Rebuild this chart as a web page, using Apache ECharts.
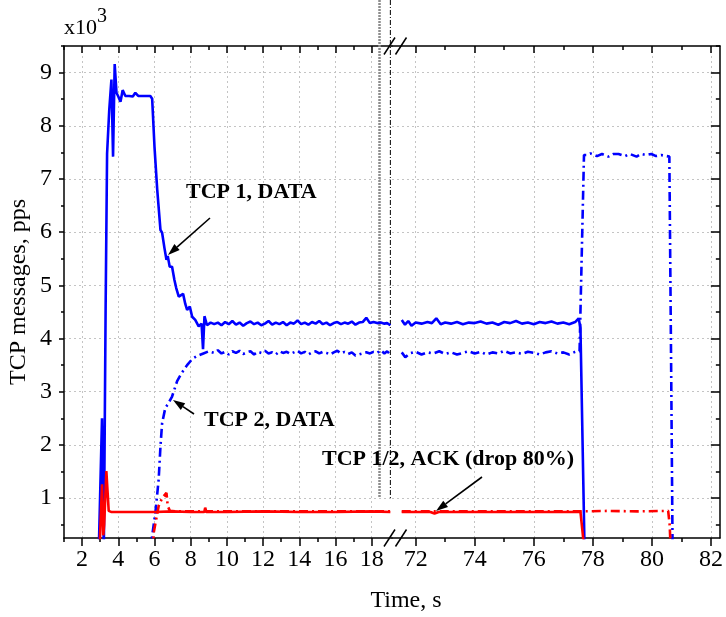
<!DOCTYPE html>
<html><head><meta charset="utf-8">
<script src="https://cdn.jsdelivr.net/npm/echarts@6/dist/echarts.min.js"></script>
<style>html,body{margin:0;padding:0;background:#fff}#c{width:726px;height:617px}</style>
</head><body><div id="c"></div>
<script>
// ---------- data (time in s, rate in 10^3 pps) ----------
const tcp1DataLeft = [[2.92,0],[3.1,2.5],[3.2,0],[3.3,4.6],[3.38,7.48],[3.5,8.3],[3.62,8.87],[3.71,7.42],[3.8,9.16],[3.9,8.62],[4.0,8.55],[4.12,8.45],[4.24,8.67],[4.39,8.56],[4.6,8.56],[4.8,8.55],[4.94,8.62],[5.1,8.56],[5.4,8.56],[5.77,8.56],[5.87,8.51],[6.0,7.6],[6.15,6.8],[6.33,6.04],[6.42,5.99],[6.55,5.7],[6.66,5.48],[6.73,5.55],[6.84,5.35],[6.97,5.35],[7.1,5.1],[7.2,4.95],[7.34,4.79],[7.45,4.82],[7.58,4.84],[7.7,4.65],[7.8,4.54],[7.95,4.6],[8.08,4.41],[8.25,4.35],[8.44,4.23],[8.6,4.28],[8.68,3.8],[8.76,4.42],[8.9,4.25],[9.1,4.3],[9.3,4.27],[9.5,4.3],[9.7,4.25],[9.9,4.31],[10.1,4.27],[10.3,4.33],[10.5,4.26],[10.7,4.3],[10.9,4.24],[11.1,4.29],[11.3,4.32],[11.5,4.27],[11.7,4.3],[11.9,4.25],[12.1,4.28],[12.3,4.33],[12.5,4.26],[12.7,4.3],[12.9,4.27],[13.1,4.31],[13.3,4.25],[13.5,4.3],[13.7,4.28],[13.9,4.34],[14.1,4.27],[14.3,4.3],[14.5,4.26],[14.7,4.31],[14.9,4.28],[15.1,4.33],[15.3,4.27],[15.5,4.3],[15.7,4.25],[15.9,4.29],[16.1,4.31],[16.3,4.27],[16.5,4.3],[16.7,4.28],[16.9,4.32],[17.1,4.26],[17.3,4.3],[17.5,4.31],[17.7,4.39],[17.9,4.29],[18.1,4.31],[18.3,4.29],[18.5,4.3],[18.7,4.28],[18.85,4.29],[19.03,4.25]];
const tcp1DataRight = [[71.53,4.35],[71.64,4.26],[71.75,4.33],[71.86,4.24],[72.0,4.3],[72.2,4.28],[72.4,4.31],[72.55,4.29],[72.7,4.38],[72.85,4.27],[73.0,4.3],[73.2,4.28],[73.4,4.31],[73.6,4.27],[73.8,4.3],[74.0,4.29],[74.2,4.32],[74.4,4.28],[74.6,4.3],[74.8,4.26],[75.0,4.31],[75.2,4.29],[75.4,4.33],[75.6,4.28],[75.8,4.3],[76.0,4.27],[76.2,4.31],[76.4,4.29],[76.6,4.32],[76.8,4.28],[77.0,4.3],[77.2,4.27],[77.4,4.31],[77.52,4.38],[77.58,4.2],[77.72,0]];
const tcp2DataLeft = [[5.8,0],[5.87,0.29],[6.05,0.73],[6.23,1.35],[6.33,1.98],[6.42,2.41],[6.6,2.7],[6.73,2.76],[6.97,2.91],[7.25,3.2],[7.5,3.35],[7.8,3.5],[8.1,3.62],[8.4,3.68],[8.7,3.72],[9.0,3.76],[9.3,3.73],[9.5,3.78],[9.7,3.72],[9.9,3.75],[10.1,3.7],[10.3,3.76],[10.5,3.73],[10.7,3.77],[10.9,3.71],[11.1,3.74],[11.3,3.76],[11.5,3.7],[11.7,3.75],[11.9,3.73],[12.1,3.77],[12.3,3.72],[12.5,3.74],[12.7,3.7],[12.9,3.76],[13.1,3.73],[13.3,3.75],[13.5,3.71],[13.7,3.74],[13.9,3.77],[14.1,3.72],[14.3,3.75],[14.5,3.7],[14.7,3.74],[14.9,3.76],[15.1,3.72],[15.3,3.75],[15.5,3.73],[15.7,3.7],[15.9,3.74],[16.1,3.77],[16.3,3.72],[16.5,3.75],[16.7,3.71],[16.9,3.74],[17.1,3.68],[17.3,3.7],[17.5,3.72],[17.7,3.74],[17.9,3.72],[18.1,3.75],[18.3,3.73],[18.5,3.78],[18.7,3.72],[18.85,3.76],[19.03,3.7]];
const tcp2DataRight = [[71.53,3.74],[71.65,3.65],[71.8,3.72],[72.0,3.75],[72.2,3.7],[72.4,3.74],[72.6,3.72],[72.8,3.76],[73.0,3.71],[73.2,3.74],[73.4,3.7],[73.6,3.73],[73.8,3.76],[74.0,3.72],[74.2,3.75],[74.4,3.7],[74.6,3.74],[74.8,3.72],[75.0,3.77],[75.2,3.72],[75.4,3.74],[75.6,3.71],[75.8,3.75],[76.0,3.73],[76.2,3.7],[76.4,3.74],[76.6,3.76],[76.8,3.72],[77.0,3.74],[77.2,3.7],[77.4,3.75],[77.55,3.76],[77.7,7.45],[77.81,7.45],[77.92,7.48],[78.14,7.43],[78.31,7.47],[78.53,7.42],[78.7,7.47],[78.87,7.47],[79.09,7.43],[79.25,7.47],[79.48,7.42],[79.64,7.47],[79.81,7.45],[79.98,7.47],[80.14,7.43],[80.31,7.45],[80.59,7.42],[80.65,3.5],[80.7,0]];
const ackTcp1Left = [[2.96,0],[3.1,1.26],[3.17,0.3],[3.22,0.5],[3.34,1.51],[3.47,0.76],[3.6,0.74],[5.0,0.74],[6.0,0.74],[7.0,0.75],[8.0,0.74],[8.75,0.74],[8.8,0.82],[8.86,0.74],[10.0,0.74],[12.0,0.75],[14.0,0.74],[16.0,0.74],[18.0,0.75],[19.03,0.74]];
const ackTcp1Right = [[71.53,0.74],[72.5,0.74],[72.64,0.71],[72.78,0.74],[74.0,0.74],[76.0,0.74],[77.58,0.74],[77.72,0]];
const ackTcp2Left = [[5.9,0],[5.96,0.36],[6.23,0.85],[6.42,1.0],[6.66,1.1],[6.73,0.85],[6.85,0.76],[7.2,0.75],[10.0,0.75],[14.0,0.75],[19.03,0.75]];
const ackTcp2Right = [[71.53,0.75],[74.0,0.75],[77.6,0.75],[78.5,0.76],[79.5,0.75],[80.55,0.76],[80.6,0.5],[80.64,0]];
const xTicksLeft = [2,4,6,8,10,12,14,16,18];
const xMinorLeft = [1,3,5,7,9,11,13,15,17];
const xTicksRight = [72,74,76,78,80,82];
const xMinorRight = [73,75,77,79,81];
const yTicks = [1,2,3,4,5,6,7,8,9];
const yMinor = [0.5,1.5,2.5,3.5,4.5,5.5,6.5,7.5,8.5,9.5];
const refLines = [18.43, 19.03];

const FONT = '"Liberation Serif","Times New Roman",serif';
const chart = echarts.init(document.getElementById('c'), null, {renderer:'canvas'});
const black = {color:'#000', width:1.5};
const split = {show:true, lineStyle:{color:'#c4c4c4', width:1, type:[2,3]}};

function xAx(grid, min, max, pos, ticks, len, inside, labels, showLine, showSplit){
  return {type:'value', gridIndex:grid, min:min, max:max, position:pos,
    axisLine:{show:showLine, onZero:false, lineStyle:black},
    axisTick:{show:true, customValues:ticks, length:len, inside:inside, lineStyle:black},
    axisLabel:labels ? {show:true, customValues:ticks, fontSize:24, fontFamily:FONT, color:'#000', margin:10} : {show:false},
    splitLine:showSplit ? split : {show:false}};
}
function yAx(grid, pos, ticks, len, inside, labels, showLine, showSplit){
  return {type:'value', gridIndex:grid, min:0.25, max:9.5, position:pos,
    axisLine:{show:showLine, onZero:false, lineStyle:black},
    axisTick:{show:true, customValues:ticks, length:len, inside:inside, lineStyle:black},
    axisLabel:labels ? {show:true, customValues:ticks, fontSize:24, fontFamily:FONT, color:'#000', margin:12} : {show:false},
    splitLine:showSplit ? split : {show:false}};
}
const LMIN=1, LMAX=19.12, RMIN=71.2, RMAX=82.3;
function ser(data, xi, yi, color, dashed, z){
  return {type:'line', data:data, xAxisIndex:xi, yAxisIndex:yi, showSymbol:false, symbol:'none', clip:true, z:z,
    lineStyle:{color:color, width:2.6, type:dashed ? [9,4,2,4] : 'solid'}, animation:false};
}
chart.setOption({
  animation:false,
  backgroundColor:'#fff',
  grid:[{left:64, top:46, width:328, height:492}, {left:392, top:46, width:333, height:492}],
  xAxis:[
    xAx(0,LMIN,LMAX,'bottom',xTicksLeft,8,false,true,true,true),
    xAx(0,LMIN,LMAX,'bottom',xMinorLeft,4,false,false,false,false),
    xAx(0,LMIN,LMAX,'top',xTicksLeft,7,true,false,true,false),
    xAx(0,LMIN,LMAX,'top',xMinorLeft,4,true,false,false,false),
    xAx(1,RMIN,RMAX,'bottom',xTicksRight,8,false,true,true,true),
    xAx(1,RMIN,RMAX,'bottom',xMinorRight,4,false,false,false,false),
    xAx(1,RMIN,RMAX,'top',xTicksRight,7,true,false,true,false),
    xAx(1,RMIN,RMAX,'top',xMinorRight,4,true,false,false,false)
  ],
  yAxis:[
    yAx(0,'left',yTicks,5,false,true,true,true),
    yAx(0,'left',yMinor,3,false,false,false,false),
    yAx(1,'right',yTicks,9,true,false,true,true),
    yAx(1,'right',yMinor,4,true,false,false,false)
  ],
  series:[
    ser(tcp2DataLeft,0,0,'#0000ff',true,2),
    ser(tcp2DataRight,4,2,'#0000ff',true,2),
    ser(tcp1DataLeft,0,0,'#0000ff',false,3),
    ser(tcp1DataRight,4,2,'#0000ff',false,3),
    ser(ackTcp2Left,0,0,'#ff0000',true,4),
    ser(ackTcp2Right,4,2,'#ff0000',true,4),
    ser(ackTcp1Left,0,0,'#ff0000',false,5),
    ser(ackTcp1Right,4,2,'#ff0000',false,5)
  ]
});

function arrow(x1,y1,x2,y2){
  const a=Math.atan2(y2-y1,x2-x1), L=12, W=4;
  const bx=x2-L*Math.cos(a), by=y2-L*Math.sin(a);
  const px=-Math.sin(a), py=Math.cos(a);
  return [
    {type:'line', z:20, shape:{x1:x1,y1:y1,x2:bx,y2:by}, style:{stroke:'#000', lineWidth:1.6}},
    {type:'polygon', z:20, shape:{points:[[x2,y2],[bx+W*px,by+W*py],[bx-W*px,by-W*py]]}, style:{fill:'#000'}}
  ];
}
function txt(t,x,y,font,align){
  return {type:'text', z:20, x:x, y:y, style:{text:t, x:0, y:0, font:font, fill:'#000', textAlign:align||'left', textVerticalAlign:'middle', align:align||'left', verticalAlign:'middle'}};
}
const g = [];
// reference vertical lines
const yBottomRef = chart.convertToPixel({yAxisIndex:0}, 1.0);
const rx0 = chart.convertToPixel({xAxisIndex:0}, refLines[0]);
const rx1 = chart.convertToPixel({xAxisIndex:0}, refLines[1]);
g.push({type:'line', z:1, shape:{x1:rx0,y1:0,x2:rx0,y2:yBottomRef}, style:{stroke:'#8c8c8c', lineWidth:2.5, lineDash:[2,1]}});
g.push({type:'line', z:1, shape:{x1:rx1,y1:0,x2:rx1,y2:yBottomRef}, style:{stroke:'#000', lineWidth:1, lineDash:[5,2,1,2]}});
// axis break marks
[46,538].forEach(function(yy){
  [389.5,401].forEach(function(xx){
    g.push({type:'line', z:30, shape:{x1:xx-5.5,y1:yy+8.5,x2:xx+5.5,y2:yy-8.5}, style:{stroke:'#000', lineWidth:1.5}});
  });
});
// annotations
g.push(txt('TCP 1, DATA',186,192,'bold 22px '+FONT));
arrow(210,218,168,255).forEach(function(e){g.push(e);});
g.push(txt('TCP 2, DATA',204,420,'bold 22px '+FONT));
arrow(194,414,173,400).forEach(function(e){g.push(e);});
g.push(txt('TCP 1/2, ACK (drop 80%)',322,459,'bold 22px '+FONT));
arrow(482,477,436,511).forEach(function(e){g.push(e);});
// axis titles
g.push(txt('Time, s',406,601,'24px '+FONT,'center'));
const yTitle = txt('TCP messages, pps',19,292,'24px '+FONT,'center');
yTitle.rotation = Math.PI/2;
g.push(yTitle);
g.push(txt('x10',64,28,'22px '+FONT,'left'));
g.push(txt('3',97,17,'20px '+FONT,'left'));
chart.setOption({graphic:g});
</script></body></html>
